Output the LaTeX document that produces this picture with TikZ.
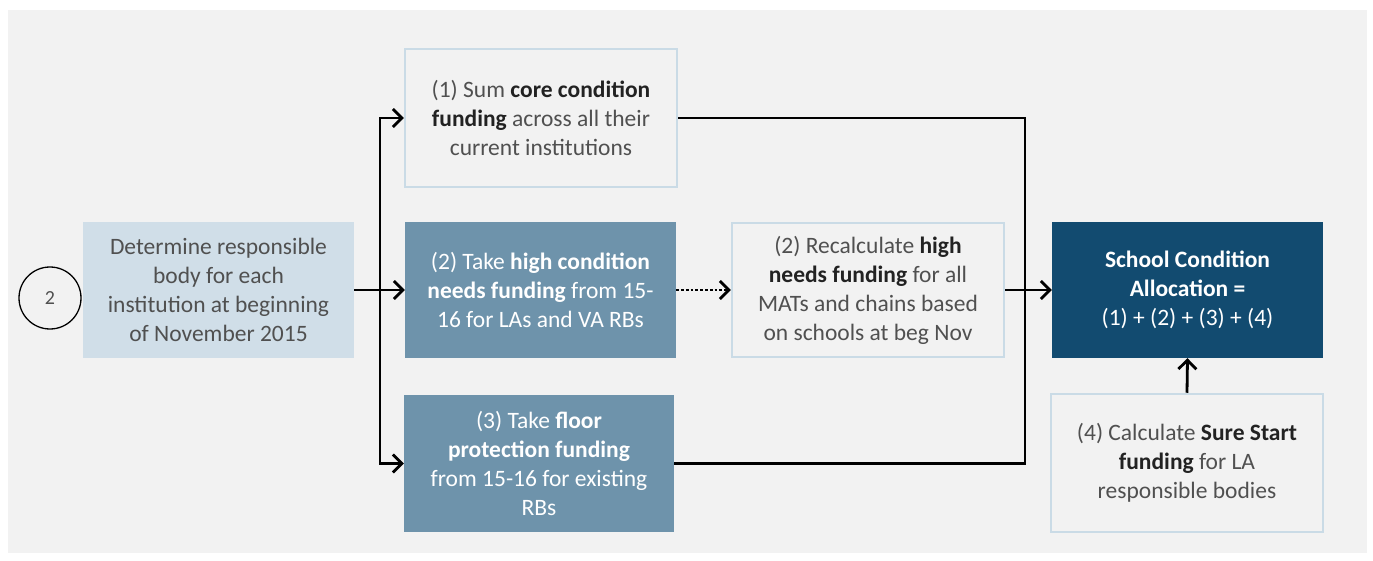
\documentclass[tikz,border=0pt]{standalone}
\usepackage{fontspec}
\setmainfont{Carlito}
\usetikzlibrary{arrows.meta}
\definecolor{bgc}{HTML}{F2F2F2}
\definecolor{lightfill}{HTML}{D0DEE8}
\definecolor{lightborder}{HTML}{CADBE6}
\definecolor{midfill}{HTML}{6E93AB}
\definecolor{darkfill}{HTML}{124B70}
\definecolor{txtgray}{HTML}{505050}
\definecolor{txtdark}{HTML}{222222}
\newcommand{\bd}[1]{{\bfseries\color{txtdark}#1}}
\tikzset{
  base/.style={rectangle, align=center, inner sep=0pt, font=\fontsize{23.5}{29}\selectfont},
  outlinebox/.style={base, draw=lightborder, line width=2.5pt, fill=bgc, text=txtgray},
  lightbox/.style={base, fill=lightfill, text=txtgray},
  midbox/.style={base, fill=midfill, text=white},
  darkbox/.style={base, fill=darkfill, text=white},
  conn/.style={line width=2.8pt, black, line join=miter},
  arr/.style={conn, -{Straight Barb[length=9pt,width=18pt,line width=2.8pt]}},
}
\begin{document}
\begin{tikzpicture}[x=1pt,y=-1pt]
\useasboundingbox (0,0) rectangle (1373,561);
\fill[white] (0,0) rectangle (1373,561);
\fill[bgc] (8,10) rectangle (1367,553);

\node[draw, circle, line width=1.3pt, minimum size=62pt, inner sep=0pt, font=\fontsize{20}{24}\selectfont, text=txtgray] (c2) at (50,298) {2};

\node[lightbox, minimum width=271pt, minimum height=136pt] (det) at (218.5,290) {Determine responsible\\body for each\\institution at beginning\\of November 2015};

\node[outlinebox, minimum width=272pt, minimum height=138pt] (b1) at (541,118) {(1) Sum \bd{core condition}\\\bd{funding} across all their\\current institutions};

\node[midbox, minimum width=271pt, minimum height=136pt] (b2) at (540.5,290) {(2) Take \textbf{high condition}\\\textbf{needs funding} from 15-\\16 for LAs and VA RBs};

\node[midbox, minimum width=270pt, minimum height=137pt] (b3) at (539,463.5) {(3) Take \textbf{floor}\\\textbf{protection funding}\\from 15-16 for existing\\RBs};

\node[outlinebox, minimum width=272pt, minimum height=134pt] (rc) at (868,290) {(2) Recalculate \bd{high}\\\bd{needs funding} for all\\MATs and chains based\\on schools at beg Nov};

\node[darkbox, minimum width=271pt, minimum height=136pt] (sc) at (1187.5,290) {\textbf{School Condition}\\\textbf{Allocation =}\\(1) + (2) + (3) + (4)};

\node[outlinebox, minimum width=272pt, minimum height=138pt] (b4) at (1187,463) {(4) Calculate \bd{Sure Start}\\\bd{funding} for LA\\responsible bodies};

\coordinate (bus) at (380,290);
\coordinate (rj) at (1025,290);

\draw[conn] (det.east) -- (bus);
\draw[arr] (bus) |- (b1.west);
\draw[arr] (bus) |- (b3.west);
\draw[arr] (bus) -- (b2.west);
\draw[arr, dotted] (b2.east) -- (rc.west);
\draw[conn] (b1.east) -| (rj) |- (b3.east);
\draw[arr] (rc.east) -- (sc.west);
\draw[arr] (b4.north) -- (sc.south);
\end{tikzpicture}
\end{document}
